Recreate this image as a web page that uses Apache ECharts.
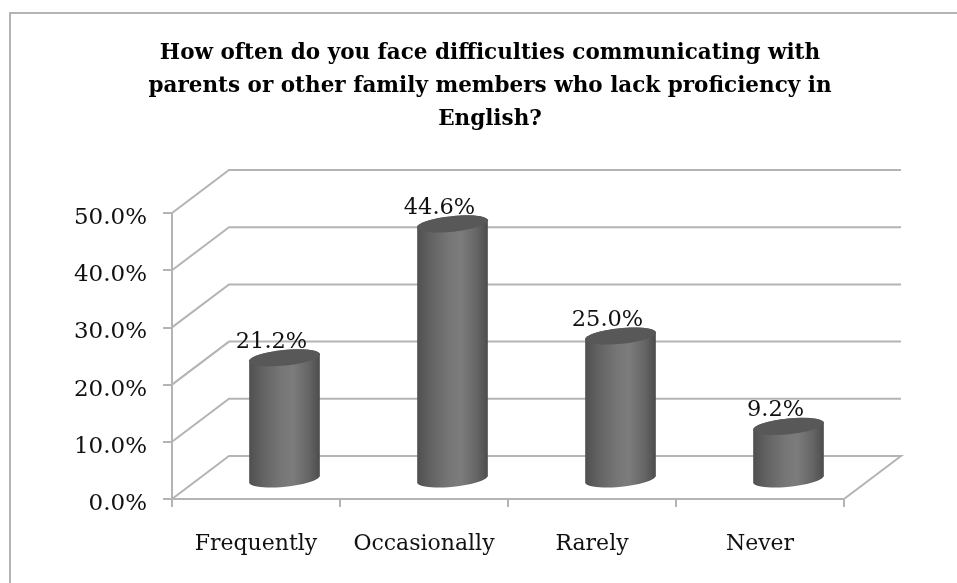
<!DOCTYPE html>
<html><head><meta charset="utf-8">
<style>html,body{margin:0;padding:0;background:#fff}#c{width:957px;height:583px}</style>
<script src="https://cdn.jsdelivr.net/npm/echarts@6/dist/echarts.min.js"></script>
</head><body><div id="c"></div>
<script>
const categories = ['Frequently','Occasionally','Rarely','Never'];
const values = [21.2,44.6,25.0,9.2];
const labels = ['21.2%','44.6%','25.0%','9.2%'];
const ticks = [0,10,20,30,40,50];
const titleText = 'How often do you face difficulties communicating with\nparents or other family members who lack proficiency in\nEnglish?';

const DX = 57, DY = -43, LINE = '#b4b4b4', FONT = '"DejaVu Serif", serif';
const chart = echarts.init(document.getElementById('c'));

function tiltedArc(cx, cy, rx, ry, rot, from, to, n) {
  const pts = [];
  for (let i = 0; i <= n; i++) {
    const t = from + (to - from) * i / n;
    const x = rx * Math.cos(t), y = ry * Math.sin(t);
    pts.push([cx + x * Math.cos(rot) - y * Math.sin(rot), cy + x * Math.sin(rot) + y * Math.cos(rot)]);
  }
  return pts;
}

chart.setOption({
  animation: false,
  backgroundColor: '#fff',
  title: {
    text: titleText, left: 485, top: 32, textAlign: 'center',
    textStyle: { fontFamily: FONT, fontWeight: 'bold', fontSize: 21.5, color: '#000', lineHeight: 33 }
  },
  graphic: [{ type: 'polyline', silent: true, z: -1, shape: { points: [[10, 583], [10, 13], [957, 13]] },
    style: { fill: 'none', stroke: LINE, lineWidth: 2 } }],
  grid: { left: 172, right: 113, top: 213, bottom: 84 },
  xAxis: {
    type: 'category', data: categories,
    axisLine: { lineStyle: { color: LINE, width: 2 } },
    axisTick: { show: true, interval: 0, length: 8, lineStyle: { color: LINE, width: 2 } },
    axisLabel: { interval: 0, hideOverlap: false, margin: 34, fontFamily: FONT, fontSize: 22, color: '#111' }
  },
  yAxis: {
    type: 'value', min: 0, max: 50, interval: 10,
    splitLine: { show: false },
    axisLine: { show: true, lineStyle: { color: LINE, width: 2 } },
    axisTick: { show: true, length: 9, lineStyle: { color: LINE, width: 2 } },
    axisLabel: { margin: 25, fontFamily: FONT, fontSize: 23, color: '#111', verticalAlign: 'top', lineHeight: 10,
      formatter: v => v.toFixed(1) + '%' }
  },
  series: [
    {
      type: 'custom', silent: true, z: 1, clip: false,
      data: ticks.map(v => [v]),
      renderItem(params, api) {
        const v = api.value(0), band = api.size([1, 0])[0];
        const l = api.coord([0, v])[0] - band / 2, r = l + band * categories.length;
        const y = api.coord([0, v])[1];
        const style = { stroke: LINE, lineWidth: 2, fill: 'none' };
        const pts = v === 0
          ? [[l, y], [l + DX, y + DY], [r + DX, y + DY], [r, y]]
          : [[l, y], [l + DX, y + DY], [r + DX, y + DY]];
        return { type: 'polyline', shape: { points: pts }, style };
      },
      encode: { y: 0 }
    },
    {
      type: 'custom', silent: true, z: 2, clip: false,
      data: values.map((v, i) => [i, v, labels[i]]),
      renderItem(params, api) {
        const c = api.coord([api.value(0), api.value(1)]);
        return { type: 'text', x: c[0] + 15.5, y: c[1] - 36,
          style: { text: labels[params.dataIndex], fontFamily: FONT, fontSize: 22.5, fill: '#111',
            align: 'center', verticalAlign: 'middle' } };
      },
      encode: { x: 0, y: 1 }
    },
    {
      type: 'custom', silent: true, z: 3, clip: false,
      data: values.map((v, i) => [i, v]),
      renderItem(params, api) {
        const top = api.coord([api.value(0), api.value(1)]);
        const base = api.coord([api.value(0), 0]);
        const cx = top[0] + 28.5, off = -20;
        const rx = 35.5, ry = 7.8, rot = -0.1;
        const topY = top[1] + off, baseY = base[1] + off;
        const bottomArc = tiltedArc(cx, baseY, rx, ry, rot, 0, Math.PI, 24);
        const topArc = tiltedArc(cx, topY, rx, ry, rot, Math.PI, 2 * Math.PI, 24);
        const fill = new echarts.graphic.LinearGradient(0, 0, 1, 0, [
          { offset: 0, color: '#505050' }, { offset: 0.2, color: '#636363' },
          { offset: 0.45, color: '#767676' }, { offset: 0.62, color: '#7c7c7c' },
          { offset: 0.85, color: '#646464' }, { offset: 1, color: '#4c4c4c' }
        ]);
        return { type: 'group', children: [
          { type: 'polygon', shape: { points: bottomArc.concat(topArc) }, style: { fill } },
          { type: 'ellipse', x: cx, y: topY, rotation: -rot, originX: 0, originY: 0,
            shape: { cx: 0, cy: 0, rx, ry }, style: { fill: '#585858' } }
        ] };
      },
      encode: { x: 0, y: 1 }
    }
  ]
});
</script></body></html>
